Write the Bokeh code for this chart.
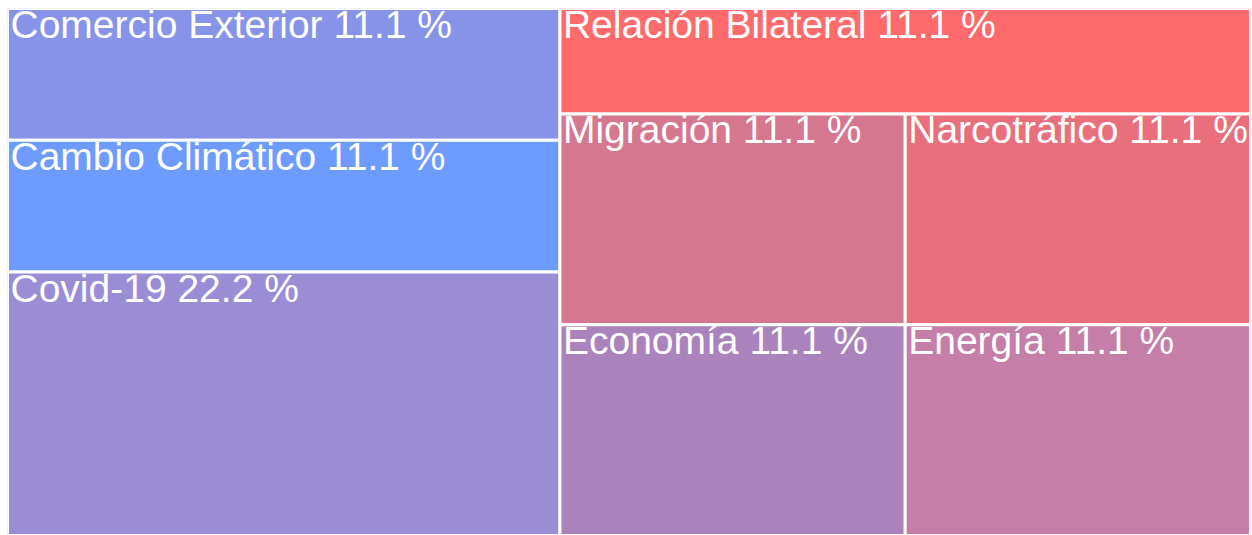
from bokeh.plotting import figure
from bokeh.models import ColumnDataSource, Range1d
from bokeh.core.properties import value
from bokeh.embed import file_html
from bokeh.resources import INLINE

# ---- data ----
names = ["Comercio Exterior", "Cambio Climático", "Covid-19", "Relación Bilateral",
         "Migración", "Narcotráfico", "Economía", "Energía"]
values = [1, 1, 2, 1, 1, 1, 1, 1]
colors = ["#8793E8", "#6E9BFF", "#9A8DD6", "#FF6B6B",
          "#D67790", "#EA6F7D", "#AB83BC", "#C47EA8"]

# grouping of the treemap (indices into the lists above)
left_group = [0, 1, 2]            # stacked vertically in the left block
right_top = [3]                   # full-width stripe on top of the right block
right_cols = [[4, 6], [5, 7]]     # two columns below the stripe

total = float(sum(values))
L, R, B, T = [0.0] * 8, [0.0] * 8, [0.0] * 8, [0.0] * 8

# left block
x_split = sum(values[i] for i in left_group) / total
sl = sum(values[i] for i in left_group)
y = 1.0
for i in left_group:
    h = values[i] / sl
    L[i], R[i], T[i], B[i] = 0.0, x_split, y, y - h
    y -= h

# right block
sr = sum(values[i] for i in right_top) + sum(values[i] for c in right_cols for i in c)
y = 1.0
for i in right_top:
    h = values[i] / sr
    L[i], R[i], T[i], B[i] = x_split, 1.0, y, y - h
    y -= h
y_rem = y
scols = sum(values[i] for c in right_cols for i in c)
x = x_split
for col in right_cols:
    cs = sum(values[i] for i in col)
    w = (1.0 - x_split) * cs / scols
    yy = y_rem
    for i in col:
        h = y_rem * values[i] / cs
        L[i], R[i], T[i], B[i] = x, x + w, yy, yy - h
        yy -= h
    x += w

labels = [f"{n} {v / total * 100:.1f} %" for n, v in zip(names, values)]

src = ColumnDataSource(dict(left=L, right=R, top=T, bottom=B, color=colors,
                            label=labels))

p = figure(width=1252, height=535, output_backend="svg", toolbar_location=None,
           x_range=Range1d(0, 1.0), y_range=Range1d(0, 1.0),
           min_border_left=7, min_border_right=2, min_border_top=8,
           min_border_bottom=0)
p.axis.visible = False
p.grid.visible = False
p.outline_line_color = None
p.background_fill_color = "white"
p.border_fill_color = "white"

p.quad(left="left", right="right", top="top", bottom="bottom", source=src,
       fill_color="color", line_color="white", line_width=3)

p.text(x="left", y="top", text="label", source=src,
       text_color="white", text_font=value("Liberation Sans"),
       text_font_size="39px", text_align="left", text_baseline="alphabetic",
       x_offset=3, y_offset=16)

open("out.html", "w").write(file_html(p, INLINE))
